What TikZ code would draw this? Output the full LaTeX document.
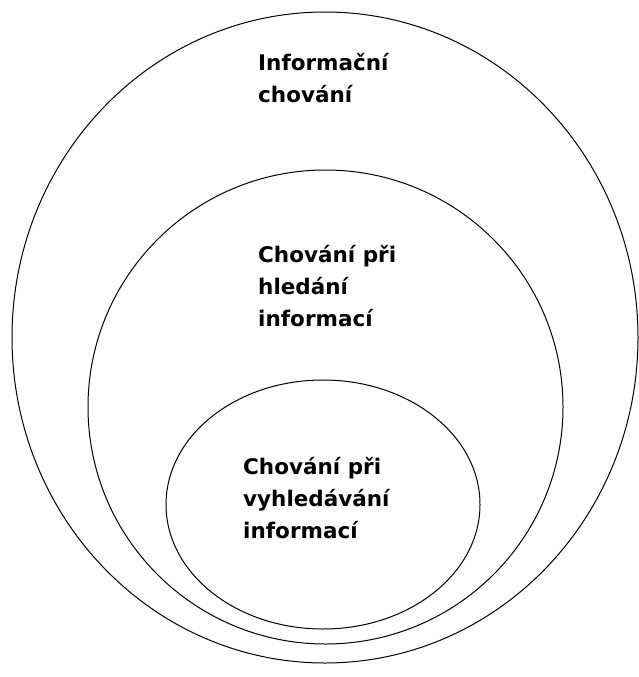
\documentclass[tikz,border=0pt]{standalone}
\usepackage{fontspec}
\setmainfont{DejaVu Sans}
\usetikzlibrary{positioning, shapes.geometric}

\begin{document}
\begin{tikzpicture}[x=1pt, y=-1pt,
		set/.style={draw, ellipse, inner sep=0pt, line width=1pt},
		settext/.style={anchor=west, align=left, inner sep=0pt,
				font=\bfseries\fontsize{21.5}{32}\selectfont}]
		\useasboundingbox (0,0) rectangle (638,677);

		% Nodes
		\node (behaviour) [set, minimum width=626pt, minimum height=651pt] at (325,337.5) {};
		\node (seeking) [set, minimum width=475pt, minimum height=474pt] at (325.5,407) {};
		\node (searching) [set, minimum width=314pt, minimum height=249pt] at (323,504.5) {};

		% Texts
		\node (behaviour_t) [settext] at (258,78) {Informační\\chování};
		\node (seeking_t) [settext] at (258,286) {Chování při\\hledání\\informací};
		\node (searching_t) [settext] at (243,498) {Chování při\\vyhledávání\\informací};

	\end{tikzpicture}
\end{document}
